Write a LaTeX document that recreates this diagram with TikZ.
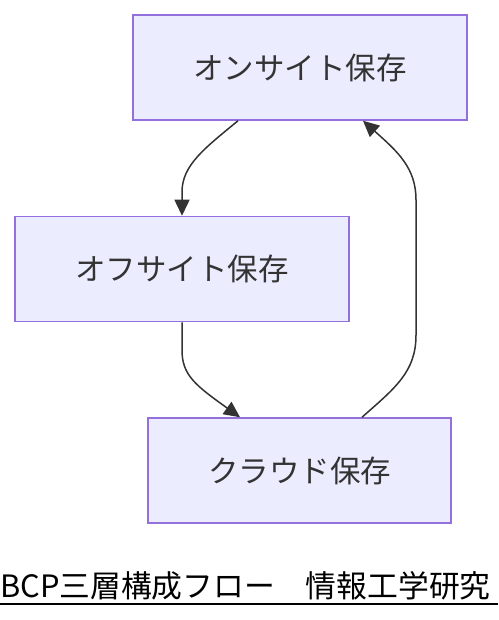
\documentclass[tikz,border=0pt]{standalone}
\usepackage{fontspec}
\setmainfont{Noto Sans CJK JP}
\usetikzlibrary{arrows.meta,calc}
\definecolor{nodefill}{HTML}{ECECFF}
\definecolor{nodeline}{HTML}{9370DB}
\definecolor{ink}{HTML}{333333}
\tikzset{
  box/.style={draw=nodeline, fill=nodefill, line width=1.5pt, minimum height=105pt, inner sep=0pt, text=ink, font=\fontsize{30.5}{36}\selectfont},
  edge/.style={draw=ink, line width=1.5pt, -{Triangle[length=16pt,width=15pt]}},
}
\begin{document}
\begin{tikzpicture}[x=1pt,y=1pt]
\useasboundingbox (0,0) rectangle (498,-620);
\node[box, minimum width=334pt] (top) at (300,-67.5) {オンサイト保存};
\node[box, minimum width=334pt] (mid) at (182,-269) {オフサイト保存};
\node[box, minimum width=303pt] (bot) at (299.5,-470.5) {クラウド保存};
\draw[edge] ([xshift=-62pt]top.south) .. controls (205,-148) and (182,-165) .. (182,-192) -- (mid.north);
\draw[edge] (mid.south) -- (182,-350) .. controls (182,-375) and (195,-385) .. ([xshift=-59.5pt]bot.north);
\draw[edge] ([xshift=62.5pt]bot.north) .. controls (395,-388) and (416,-372) .. (416,-335) -- (416,-200) .. controls (416,-168) and (398,-152) .. ([xshift=63pt]top.south);
\node[anchor=west, inner sep=0pt, text=black, font=\fontsize{30.8}{36}\selectfont] (title) at (0,-586) {BCP三層構成フロー　情報工学研究};
\coordinate (ulL) at (0,-604);
\coordinate (ulR) at (498,-604);
\draw[line width=2pt, black] (ulL) -- (ulR);
\end{tikzpicture}
\end{document}
